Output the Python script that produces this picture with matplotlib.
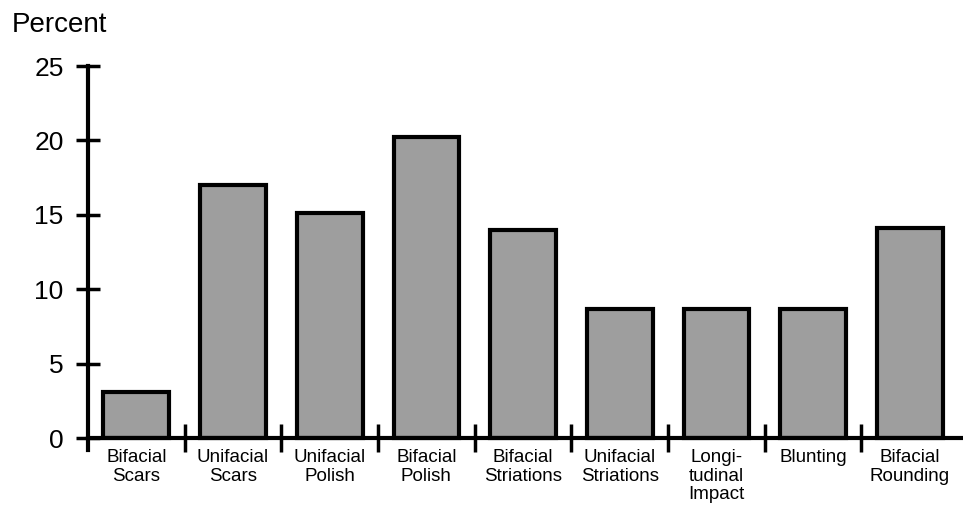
import matplotlib.pyplot as plt
import numpy as np

categories = ['Bifacial\nScars', 'Unifacial\nScars', 'Unifacial\nPolish', 'Bifacial\nPolish',
              'Bifacial\nStriations', 'Unifacial\nStriations', 'Longi-\ntudinal\nImpact',
              'Blunting', 'Bifacial\nRounding']
percent = [3.1, 17, 15.1, 20.2, 14, 8.7, 8.7, 8.7, 14.1]
yticks = [0, 5, 10, 15, 20, 25]

plt.rcParams['font.family'] = ['Liberation Sans', 'DejaVu Sans']

fig = plt.figure(figsize=(9.63, 5.08), dpi=100)
ax = fig.add_axes([0.0914, 0.114, 0.9086, 0.756])

x = np.arange(len(categories))
ax.bar(x, percent, width=0.68, color='#9e9e9e', edgecolor='black', linewidth=3, zorder=2)

ax.set_ylim(-0.8, 25)
ax.set_xlim(-0.5, len(categories) - 0.45)

for s in ['top', 'right']:
    ax.spines[s].set_visible(False)
ax.spines['left'].set_linewidth(3)
ax.spines['bottom'].set_linewidth(3)
ax.spines['bottom'].set_position(('data', 0))
ax.spines['bottom'].set_zorder(3)

ax.set_yticks(yticks)
ax.tick_params(axis='y', direction='inout', length=17, width=2.5, labelsize=19, pad=9)

# boundary ticks between categories, labels centred under bars
ax.set_xticks(np.arange(0.5, len(categories) - 0.5, 1))
ax.set_xticklabels([])
ax.tick_params(axis='x', which='major', direction='inout', length=20, width=2.5)
ax.set_xticks(x, minor=True)
ax.set_xticklabels(categories, minor=True, fontsize=13.5, linespacing=1.12)
ax.tick_params(axis='x', which='minor', length=0, pad=8)

fig.text(0.012, 0.951, 'Percent', fontsize=20, ha='left', va='center')

fig.savefig('out.png', dpi=100)
